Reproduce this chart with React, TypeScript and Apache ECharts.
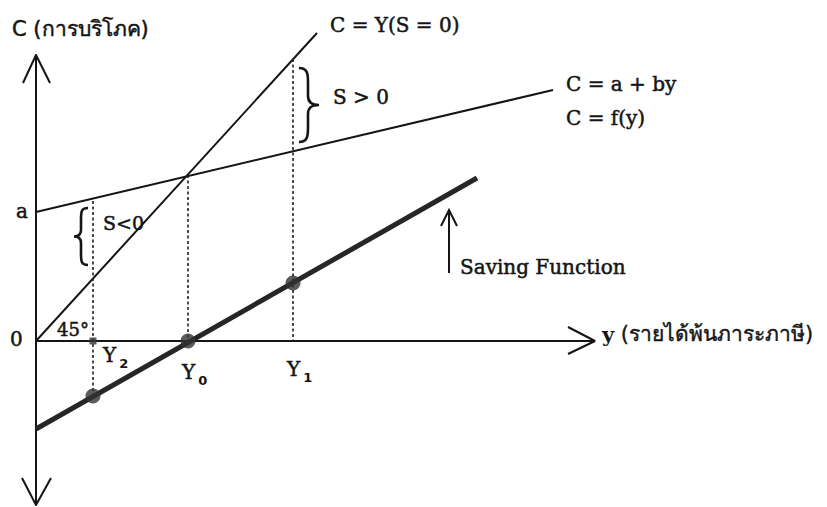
import React, { useEffect, useRef } from "react";
import * as echarts from "echarts";

// Axis ranges (data units)
const xRange = [-36, 559];
const yRange = [-164, 286];

// Lines
const horizontalAxis = [[0, 0], [559, 0]];
const consumptionLine = [[0, 129], [517, 251]]; // C = a + by
const incomeLine = [[0, 0], [281, 308]]; // C = Y (S = 0), 45°
const savingLine = [[0, -88], [441, 163]]; // saving function
const savingPoints = [[57, -55], [152, 0], [257, 58]];
const guideY2 = [[57, 140], [57, -55]];
const guideY0 = [[152, 166], [152, 0]];
const guideY1 = [[257, 282], [257, 0]];
const markerY2 = [[57, 0]];

// Axis arrow heads (open chevrons)
const arrowTop = [[-13, 258], [0, 286], [14, 258]];
const arrowBottom = [[-14, -137], [0, -164], [15, -137]];
const arrowRight = [[532, 14], [559, 0], [532, -13]];

const braceLeft =
  "M15,0 C8,0 8,4 8,12 L8,22 C8,26 6,28.5 1,28.5 C6,28.5 8,31 8,35 L8,45 C8,53 8,57 15,57";
const braceRight =
  "M0,0 C8,0 9,5 9,14 L9,28 C9,34 12,37 20,37 C12,37 9,40 9,46 L9,60 C9,69 8,74 0,74";

const SERIF = "'DejaVu Serif', serif";
const SANS = "'DejaVu Sans', 'Noto Sans', sans-serif";
const INK = "#151515";

export default function App() {
  const ref = useRef<HTMLDivElement>(null);
  useEffect(() => {
    if (!ref.current) return;
    echarts.graphic.registerShape("braceL", echarts.graphic.extendPath(braceLeft, {}));
    echarts.graphic.registerShape("braceR", echarts.graphic.extendPath(braceRight, {}));
    const chart = echarts.init(ref.current, null, { renderer: "svg" });
    const thin = { color: INK, width: 2 };
    const dashed = { color: "#222", width: 1.6, type: [3, 2.5] as any };
    const lineSeries = (data: number[][], lineStyle: any, z = 2) => ({
      type: "line",
      data,
      showSymbol: false,
      symbol: "none",
      clip: false,
      silent: true,
      lineStyle,
      z,
    });
    const label = (text: string, x: number, y: number, size = 20, font = SERIF) => ({
      type: "text",
      x,
      y,
      style: {
        text,
        fill: INK,
        stroke: INK,
        lineWidth: 0.5,
        font: `${size}px ${font}`,
        verticalAlign: "middle",
      },
    });
    const sub = (main: string, s: string, x: number, y: number) => ({
      type: "text",
      x,
      y,
      style: {
        text: `{m|${main}}{s|${s}}`,
        rich: {
          m: { fontFamily: SERIF, fontSize: 20, fill: INK, stroke: INK, lineWidth: 0.5, lineHeight: 22 },
          s: { fontFamily: SANS, fontSize: 13, fontWeight: "bold", fill: INK, padding: [16, 0, 0, 3], lineHeight: 22 },
        },
      },
    });
    chart.setOption({
      animation: false,
      backgroundColor: "#ffffff",
      grid: { left: 0, right: 232, top: 55, bottom: 2, containLabel: false },
      xAxis: {
        type: "value",
        min: xRange[0],
        max: xRange[1],
        axisLine: { show: false },
        axisTick: { show: false },
        axisLabel: { show: false },
        splitLine: { show: false },
      },
      yAxis: {
        type: "value",
        min: yRange[0],
        max: yRange[1],
        axisLine: { show: true, onZero: true, lineStyle: { color: INK, width: 2 } },
        axisTick: { show: false },
        axisLabel: { show: false },
        splitLine: { show: false },
      },
      series: [
        lineSeries(horizontalAxis, thin),
        lineSeries(arrowTop, thin),
        lineSeries(arrowBottom, thin),
        lineSeries(arrowRight, thin),
        lineSeries(consumptionLine, thin),
        lineSeries(incomeLine, thin),
        lineSeries(guideY2, dashed),
        lineSeries(guideY0, dashed),
        lineSeries(guideY1, dashed),
        lineSeries(savingLine, { color: "#262626", width: 5 }, 3),
        {
          type: "scatter",
          data: savingPoints,
          symbol: "circle",
          symbolSize: 15,
          itemStyle: { color: "#333" },
          silent: true,
          z: 4,
        },
        {
          type: "scatter",
          data: markerY2,
          symbol: "rect",
          symbolSize: 7,
          itemStyle: { color: "#333" },
          silent: true,
          z: 4,
        },
      ],
      graphic: [
        label("C (การบริโภค)", 12, 29, 21, SANS),
        label("C = Y(S = 0)", 330, 25),
        label("S > 0", 333, 97),
        label("C = a + by", 566, 84),
        label("C = f(y)", 566, 118),
        label("a", 16, 211, 20),
        label("0", 10, 339, 20),
        label("S<0", 103, 223, 19),
        label("45°", 57, 329, 18),
        label("Saving Function", 460, 267),
        sub("Y", "2", 103, 344),
        sub("Y", "0", 182, 361),
        sub("Y", "1", 287, 358),
        {
          type: "text",
          x: 602,
          y: 334,
          style: {
            text: "{y|y}  {t|(รายได้พ้นภาระภาษี)}",
            verticalAlign: "middle",
            rich: {
              y: { fontFamily: SERIF, fontSize: 21, fontWeight: "bold", fill: INK },
              t: { fontFamily: SANS, fontSize: 21, fill: INK, stroke: INK, lineWidth: 0.4 },
            },
          },
        },
        { type: "line", shape: { x1: 449, y1: 273, x2: 449, y2: 211 }, style: { stroke: INK, lineWidth: 2 } },
        {
          type: "polyline",
          shape: { points: [[441, 226], [449, 210], [457, 226]] },
          style: { stroke: INK, lineWidth: 2, fill: "none" },
        },
        { type: "braceL", x: 73, y: 208, style: { stroke: INK, lineWidth: 2.6, fill: "none" } },
        { type: "braceR", x: 299, y: 68, style: { stroke: INK, lineWidth: 2.6, fill: "none" } },
      ],
    });
    return () => chart.dispose();
  }, []);
  return (
    <div
      ref={ref}
      style={{ position: "fixed", left: 0, top: 0, width: 827, height: 507, background: "#fff" }}
    />
  );
}
